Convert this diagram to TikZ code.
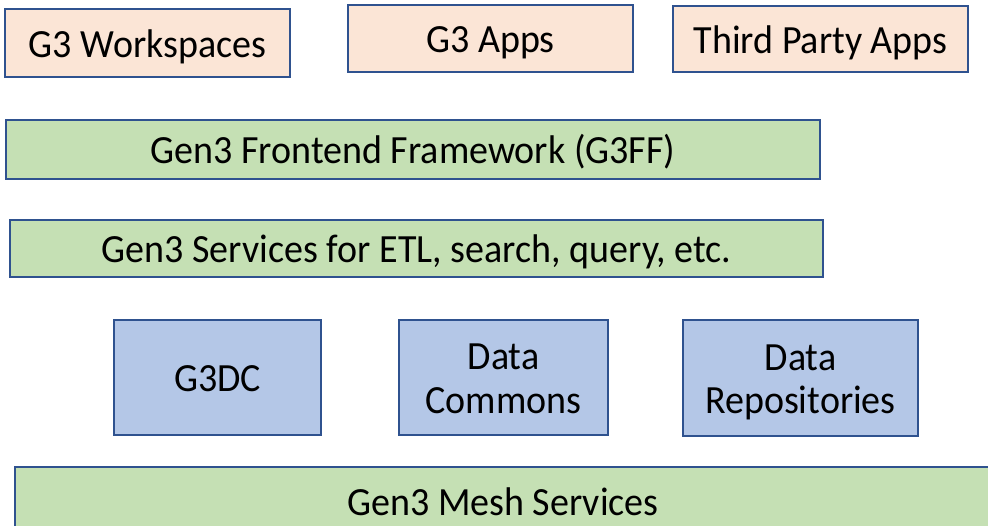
\documentclass[tikz,border=0pt]{standalone}
\usepackage{fontspec}
\setmainfont{Carlito}
\newfontfamily\boxfont[FakeStretch=0.95]{Carlito}
\definecolor{edge}{HTML}{2F528F}
\definecolor{peach}{HTML}{FBE5D6}
\definecolor{leaf}{HTML}{C5E0B4}
\definecolor{sky}{HTML}{B4C7E7}
\begin{document}
\begin{tikzpicture}[x=1pt,y=-1pt,
  box/.style={draw=edge,line width=2.5pt,font=\boxfont\fontsize{40}{43.5}\selectfont,align=center,text=black,inner sep=0pt,anchor=center,text height=34pt,text depth=6pt},
  twoline/.style={text height=77pt,text depth=6pt},
  appbox/.style={box,fill=peach},
  layerbox/.style={box,fill=leaf},
  dcbox/.style={box,fill=sky}]
\useasboundingbox (0,0) rectangle (988,525);
\clip (0,0) rectangle (988,525);
\node[appbox,minimum width=285pt,minimum height=68pt] (ws) at (147.5,43) {G3 Workspaces};
\node[appbox,minimum width=285pt,minimum height=67pt] (apps) at (490.5,38.5) {G3 Apps};
\node[appbox,minimum width=295pt,minimum height=66pt] (tpa) at (820.5,39) {Third Party Apps};
\node[layerbox,minimum width=814pt,minimum height=59pt] (ff) at (413,149.5) {Gen3 Frontend Framework (G3FF)};
\node[layerbox,minimum width=813pt,minimum height=57pt] (svc) at (416.5,248.5) {Gen3 Services for ETL, search, query, etc.};
\node[dcbox,minimum width=207pt,minimum height=115pt] (g3dc) at (217.5,377.5) {G3DC};
\node[dcbox,twoline,minimum width=209pt,minimum height=115pt] (dc) at (503.5,377.5) {Data\\Commons};
\node[dcbox,twoline,minimum width=235pt,minimum height=116pt] (dr) at (800.5,378) {Data\\Repositories};
\node[layerbox,minimum width=985pt,minimum height=78pt] (mesh) at (507.5,506) {};
\node[font=\boxfont\fontsize{40}{43.5}\selectfont,inner sep=0pt,anchor=base] (meshlabel) at (503,515) {Gen3 Mesh Services};
\end{tikzpicture}
\end{document}
